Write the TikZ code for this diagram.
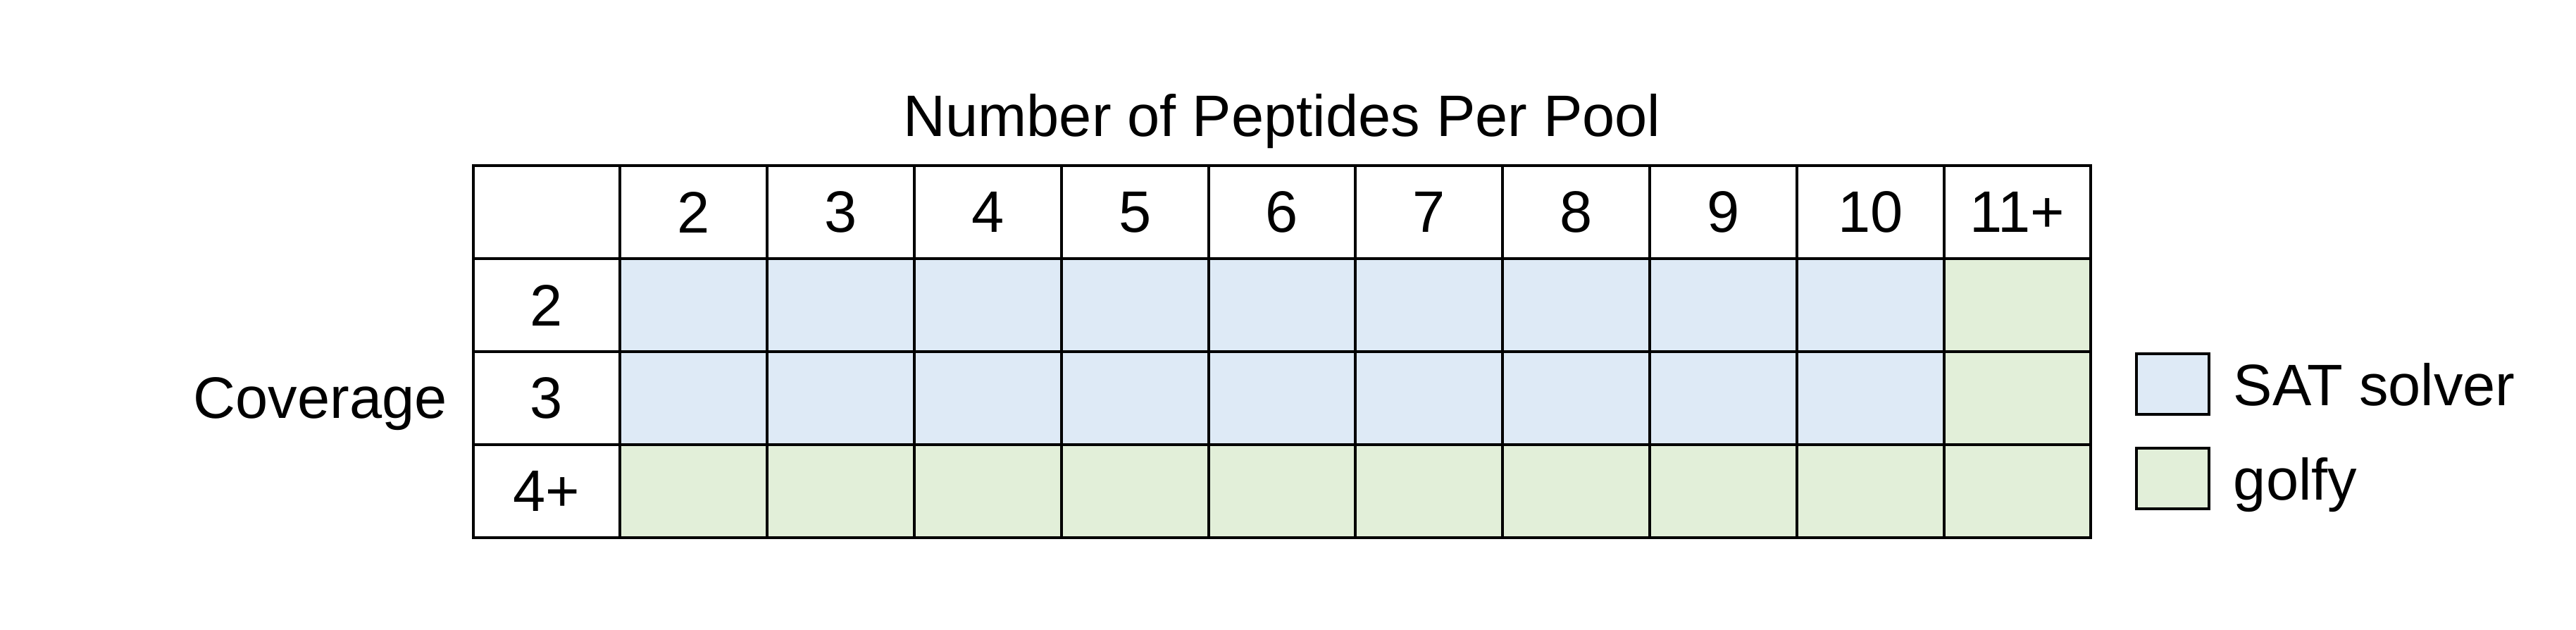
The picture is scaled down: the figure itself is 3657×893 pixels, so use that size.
\documentclass[tikz,border=0pt]{standalone}
\usepackage{fontspec}
\setmainfont{Liberation Sans}
\usetikzlibrary{matrix}
\usetikzlibrary{positioning}

\definecolor{satblue}{HTML}{DEEAF6}
\definecolor{golfgreen}{HTML}{E2EFD9}

\tikzset{
  cell/.style={draw,line width=1pt,minimum width=52.2pt,minimum height=32.97pt,inner sep=0pt,anchor=center},
  key/.style={draw,line width=1pt,minimum width=25.75pt,minimum height=21.5pt,inner sep=0pt},
  sat/.style={fill=satblue},
  golf/.style={fill=golfgreen}
}

\begin{document}
\begin{tikzpicture}[x=0.25pt,y=0.25pt,font=\fontsize{20.75pt}{24pt}\selectfont]

  \useasboundingbox (0,0) rectangle (3657,893);

  \matrix (T) [matrix of nodes,nodes={cell},nodes in empty cells,inner sep=0pt,
               column sep=-1pt,row sep=-1pt] at (1820,394) {
       & 2 & 3 & 4 & 5 & 6 & 7 & 8 & 9 & 10 & 11+ \\
    2  & |[sat]| & |[sat]| & |[sat]| & |[sat]| & |[sat]| & |[sat]| & |[sat]| & |[sat]| & |[sat]| & |[golf]| \\
    3  & |[sat]| & |[sat]| & |[sat]| & |[sat]| & |[sat]| & |[sat]| & |[sat]| & |[sat]| & |[sat]| & |[golf]| \\
    4+ & |[golf]| & |[golf]| & |[golf]| & |[golf]| & |[golf]| & |[golf]| & |[golf]| & |[golf]| & |[golf]| & |[golf]| \\
  };

  \node (title) [anchor=base] at (T.north |- 0,700) {Number of Peptides Per Pool};

  \node (cov) [left=8.5pt of T-3-1,inner sep=0pt,text depth=0pt] {Coverage};

  % legend
  \node (satkey) [key,sat] at (3084.5,348) {};
  \node (golfkey) [key,golf,below=11pt of satkey] {};
  \node (satlab) [right=8pt of satkey,inner sep=0pt,text depth=0pt] {SAT solver};
  \node (golflab) [right=8pt of golfkey,inner sep=0pt,text depth=0pt] {golfy};

\end{tikzpicture}
\end{document}
